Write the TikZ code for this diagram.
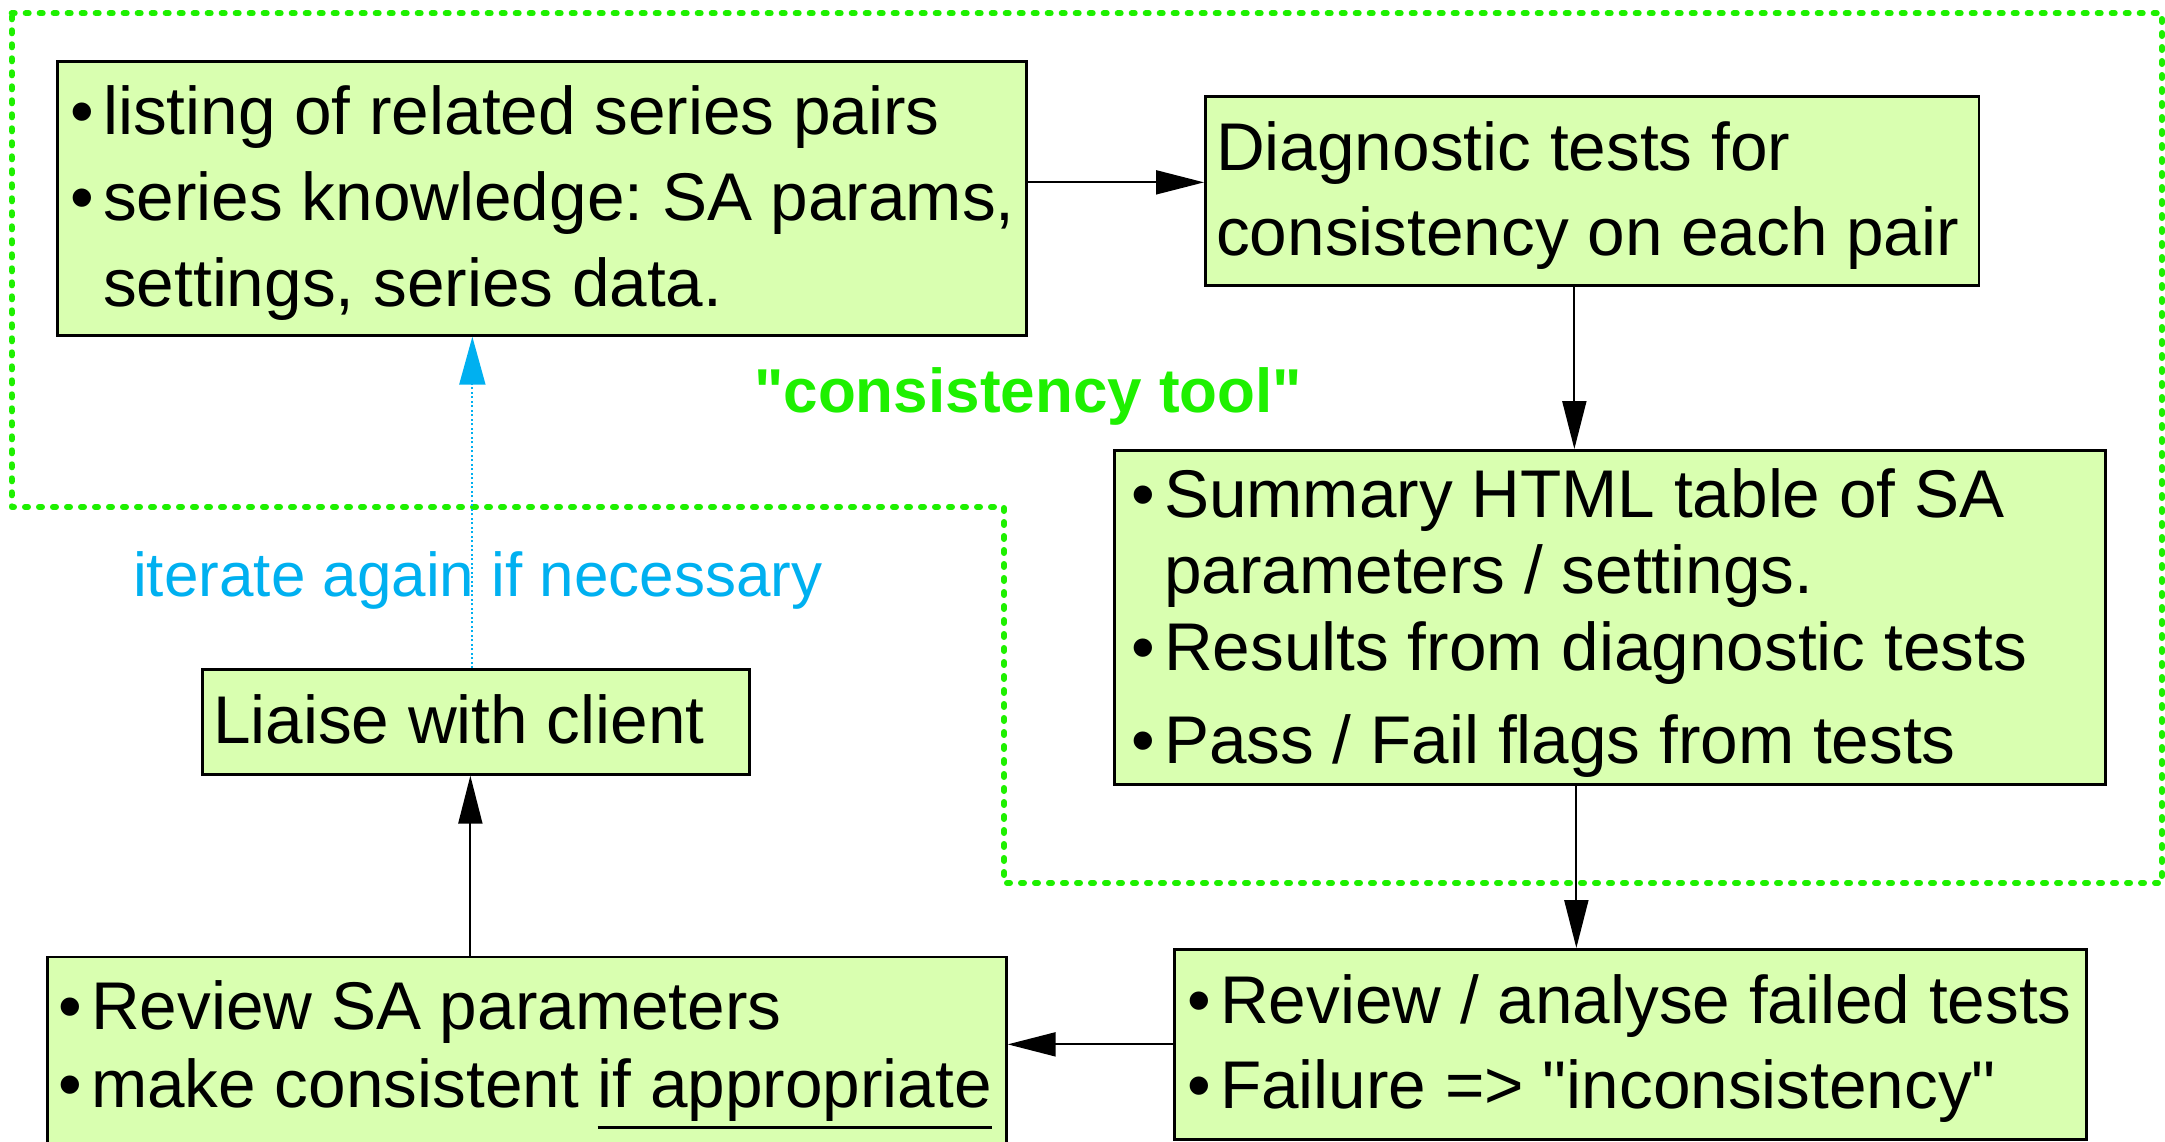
\documentclass[tikz,border=0pt]{standalone}
\usepackage{fontspec}
\setmainfont{Liberation Sans}
\usetikzlibrary{arrows.meta}

\definecolor{boxfill}{RGB}{217,255,176}
\definecolor{toolgreen}{RGB}{30,240,0}
\definecolor{loopblue}{RGB}{0,176,240}

% bullet with hanging indent, plain indent for wrapped lines
\newcommand\bul{\makebox[33pt][l]{\char"2022}}
\newcommand\ind{\hspace*{33pt}}
% straight double quote, set as a glyph so no text mapping curls it
\newcommand\sq{\XeTeXglyph\XeTeXcharglyph"22\relax}
% underline set below the descenders
\newcommand\ulin[1]{\setbox0\hbox{#1}\rlap{\rule[-21.5pt]{\wd0}{3pt}}\box0}
\frenchspacing

\begin{document}
\begin{tikzpicture}[x=1pt,y=-1pt,
  stepbox/.style={draw=black, line width=2.7pt, fill=boxfill, inner sep=0pt, anchor=north west},
  txt/.style={inner sep=0pt, anchor=base west, font=\fontsize{67.5}{85}\selectfont},
  arr/.style={line width=2pt, -{Triangle[length=48pt,width=24pt]}},
  lbl/.style={inner sep=0pt, anchor=base west},
]
\useasboundingbox (0,0) rectangle (2165,1141);
\clip (0,0) rectangle (2165,1141);

% the "consistency tool" frame
\draw[toolgreen, line width=6pt, line cap=round, line join=round,
      dash pattern=on 3pt off 11pt]
  (11.7,13.3) -- (2162,13.3) -- (2162,883) -- (1004,883) -- (1004,507)
  -- (11.7,507) -- cycle;

% boxes
\node[stepbox, minimum width=969pt, minimum height=274pt] (lst) at (56,60) {};
\node[stepbox, minimum width=773.5pt, minimum height=189pt] (diag) at (1204,95) {};
\node[stepbox, minimum width=991pt, minimum height=334pt] (summ) at (1113,449) {};
\node[stepbox, minimum width=912pt, minimum height=190pt] (fail) at (1173,948) {};
\node[stepbox, minimum width=959pt, minimum height=215pt] (rsa) at (46,955.7) {};
\node[stepbox, minimum width=547pt, minimum height=105pt] (liaise) at (201,668) {};

% box texts
\node[txt, font=\fontsize{67.5}{86}\selectfont] (lstT) at (70,134)
  {\begin{tabular}[t]{@{}l@{}}\bul listing of related series pairs\\
   \bul series knowledge: SA params,\\ \ind settings, series data.\end{tabular}};
\node[txt] (diagT) at (1216,170)
  {\begin{tabular}[t]{@{}l@{}}Diagnostic tests for\\ consistency on each pair\end{tabular}};
\node[txt, font=\fontsize{67.5}{76.5}\selectfont] (summT) at (1131,517)
  {\begin{tabular}[t]{@{}l@{}}\bul Summary HTML table of SA\\ \ind parameters / settings.\\
   \bul Results from diagnostic tests\\[16.5pt] \bul Pass / Fail flags from tests\end{tabular}};
\node[txt] (failT) at (1187,1023)
  {\begin{tabular}[t]{@{}l@{}}\bul Review / analyse failed tests\\
   \bul Failure => \sq inconsistency\sq\end{tabular}};
\node[txt, font=\fontsize{67.5}{78}\selectfont] (rsaT) at (58,1029)
  {\begin{tabular}[t]{@{}l@{}}\bul Review SA parameters\\
   \bul make consistent \ulin{if appropriate}\end{tabular}};
\node[txt] (liaiseT) at (213,743) {Liaise with client};

% labels
\node[lbl, text=toolgreen, font=\fontsize{62}{74}\selectfont\bfseries] (tool) at (754,412)
  {\sq consistency tool\sq};
\node[lbl, text=loopblue, font=\fontsize{62}{74}\selectfont] (iter) at (133,596)
  {iterate again if necessary};

% connectors
\coordinate (c1) at ([yshift=16pt]lst.east);
\draw[arr] (c1) -- (c1 -| diag.west);
\coordinate (c2) at ([xshift=-17.75pt]diag.south);
\draw[arr] (c2) -- (c2 |- summ.north);
\coordinate (c3) at ([xshift=-33.5pt]summ.south);
\draw[arr] (c3) -- (c3 |- fail.north);
\draw[arr] (fail.west) -- (fail.west -| rsa.east);
\coordinate (c5) at ([xshift=-5.5pt]liaise.south);
\draw[arr] (c5 |- rsa.north) -- (c5);
\coordinate (c6) at ([xshift=-3.5pt]liaise.north);
\draw[loopblue, line width=2pt, dash pattern=on 2pt off 2.5pt,
      -{Triangle[length=48pt,width=26pt]}] (c6) -- (c6 |- lst.south);
\end{tikzpicture}
\end{document}
